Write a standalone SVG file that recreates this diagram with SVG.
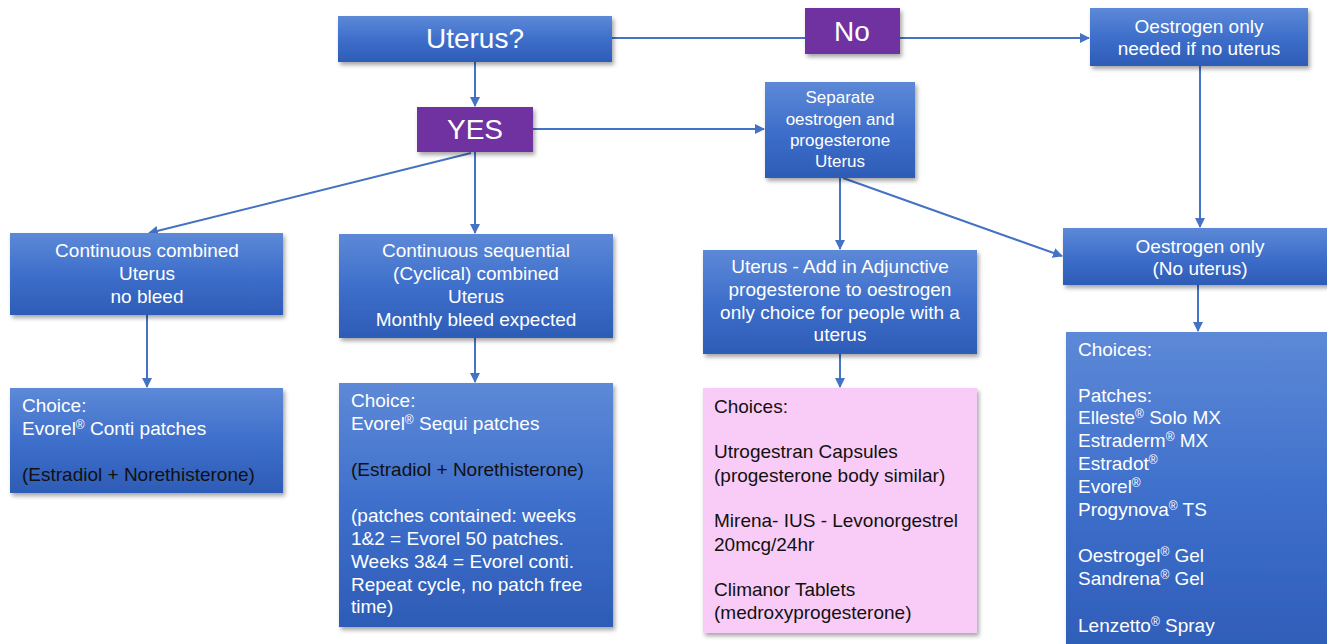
<svg xmlns="http://www.w3.org/2000/svg" width="1327" height="644" viewBox="0 0 1327 644">
<defs>
<linearGradient id="blue" x1="0" y1="0" x2="0" y2="1">
<stop offset="0" stop-color="#5D89D7"/>
<stop offset="0.5" stop-color="#3E6FCB"/>
<stop offset="1" stop-color="#2D5CB6"/>
</linearGradient>
<filter id="sh" x="-5%" y="-5%" width="115%" height="120%">
<feDropShadow dx="2" dy="3" stdDeviation="2" flood-color="#000" flood-opacity="0.35"/>
</filter>
<marker id="ah" viewBox="0 0 10 10" refX="9" refY="5" markerWidth="5" markerHeight="5" orient="auto" markerUnits="strokeWidth">
<path d="M0,0 L10,5 L0,10 z" fill="#4472C4"/>
</marker>
</defs>
<style>
.b{fill:url(#blue);filter:url(#sh);}
.p{fill:#7030A0;filter:url(#sh);}
.k{fill:#F9CCF8;filter:url(#sh);}
text{font-family:"Liberation Sans",Arial,sans-serif;}
.t{fill:#fff;font-size:19px;text-anchor:middle;}
.s{fill:#fff;font-size:17px;text-anchor:middle;}
.big{fill:#fff;font-size:28px;text-anchor:middle;}
.w{fill:#fff;font-size:19px;}
.d{fill:#111;font-size:19px;}
.r{font-size:12px;}
.c line{stroke:#4472C4;stroke-width:2;fill:none;}
.c .a{marker-end:url(#ah);}
</style>
<rect width="1327" height="644" fill="#fff"/>

<g class="c" id="connectors">
<line class="a" x1="475" y1="62" x2="475" y2="106"/>
<line x1="612" y1="38" x2="805" y2="38"/>
<line class="a" x1="900" y1="38" x2="1089" y2="38"/>
<line class="a" x1="533" y1="129" x2="764" y2="129"/>
<line class="a" x1="471" y1="153" x2="149" y2="233"/>
<line class="a" x1="475" y1="152" x2="475" y2="233"/>
<line class="a" x1="840" y1="178" x2="840" y2="249"/>
<line class="a" x1="843" y1="178" x2="1062" y2="256"/>
<line class="a" x1="1200" y1="66" x2="1200" y2="227"/>
<line class="a" x1="147" y1="315" x2="147" y2="387"/>
<line class="a" x1="475" y1="338" x2="475" y2="382"/>
<line class="a" x1="840" y1="354" x2="840" y2="387"/>
<line class="a" x1="1198" y1="285" x2="1198" y2="331"/>
</g>

<g id="uterus">
<rect class="b" x="338" y="16" width="274" height="46"/>
<text class="big" x="475" y="48">Uterus?</text>
</g>

<g id="no">
<rect class="p" x="805" y="8" width="95" height="46"/>
<text class="big" x="852" y="41">No</text>
</g>

<g id="oestrogen-needed">
<rect class="b" x="1090" y="8" width="218" height="58"/>
<text class="t" x="1199" y="33">Oestrogen only</text>
<text class="t" x="1199" y="55">needed if no uterus</text>
</g>

<g id="yes">
<rect class="p" x="417" y="107" width="116" height="45"/>
<text class="big" x="475" y="139">YES</text>
</g>

<g id="separate">
<rect class="b" x="765" y="82" width="150" height="96"/>
<text class="s" x="840" y="103">Separate</text>
<text class="s" x="840" y="125">oestrogen and</text>
<text class="s" x="840" y="146">progesterone</text>
<text class="s" x="840" y="167">Uterus</text>
</g>

<g id="continuous-combined">
<rect class="b" x="10" y="233" width="273" height="82"/>
<text class="t" x="147" y="257">Continuous combined</text>
<text class="t" x="147" y="280">Uterus</text>
<text class="t" x="147" y="303">no bleed</text>
</g>

<g id="continuous-sequential">
<rect class="b" x="339" y="234" width="274" height="104"/>
<text class="t" x="476" y="257">Continuous sequential</text>
<text class="t" x="476" y="280">(Cyclical) combined</text>
<text class="t" x="476" y="303">Uterus</text>
<text class="t" x="476" y="326">Monthly bleed expected</text>
</g>

<g id="adjunctive">
<rect class="b" x="703" y="250" width="274" height="104"/>
<text class="t" x="840" y="273">Uterus - Add in Adjunctive</text>
<text class="t" x="840" y="296">progesterone to oestrogen</text>
<text class="t" x="840" y="319">only choice for people with a</text>
<text class="t" x="840" y="341">uterus</text>
</g>

<g id="oestrogen-only">
<rect class="b" x="1063" y="228" width="280" height="57"/>
<text class="t" x="1200" y="253">Oestrogen only</text>
<text class="t" x="1200" y="275">(No uterus)</text>
</g>

<g id="choice-conti">
<rect class="b" x="10" y="388" width="273" height="105"/>
<text class="w" x="22" y="412">Choice:</text>
<text class="w" x="22" y="435">Evorel<tspan class="r" dy="-6">®</tspan><tspan dy="6"> Conti patches</tspan></text>
<text class="d" x="22" y="481">(Estradiol + Norethisterone)</text>
</g>

<g id="choice-sequi">
<rect class="b" x="339" y="383" width="274" height="244"/>
<text class="w" x="351" y="407">Choice:</text>
<text class="w" x="351" y="430">Evorel<tspan class="r" dy="-6">®</tspan><tspan dy="6"> Sequi patches</tspan></text>
<text class="d" x="351" y="476">(Estradiol + Norethisterone)</text>
<text class="w" x="351" y="522">(patches contained: weeks</text>
<text class="w" x="351" y="545">1&amp;2 = Evorel 50 patches.</text>
<text class="w" x="351" y="568">Weeks 3&amp;4 = Evorel conti.</text>
<text class="w" x="351" y="591">Repeat cycle, no patch free</text>
<text class="w" x="351" y="613">time)</text>
</g>

<g id="choices-progesterone">
<rect class="k" x="703" y="388" width="274" height="245"/>
<text class="d" x="714" y="413">Choices:</text>
<text class="d" x="714" y="458">Utrogestran Capsules</text>
<text class="d" x="714" y="482">(progesterone body similar)</text>
<text class="d" x="714" y="527">Mirena- IUS - Levonorgestrel</text>
<text class="d" x="714" y="551">20mcg/24hr</text>
<text class="d" x="714" y="596">Climanor Tablets</text>
<text class="d" x="714" y="619">(medroxyprogesterone)</text>
</g>

<g id="choices-oestrogen">
<rect class="b" x="1066" y="332" width="280" height="330"/>
<text class="w" x="1078" y="356">Choices:</text>
<text class="w" x="1078" y="402">Patches:</text>
<text class="w" x="1078" y="424">Elleste<tspan class="r" dy="-6">®</tspan><tspan dy="6"> Solo MX</tspan></text>
<text class="w" x="1078" y="447">Estraderm<tspan class="r" dy="-6">®</tspan><tspan dy="6"> MX</tspan></text>
<text class="w" x="1078" y="470">Estradot<tspan class="r" dy="-6">®</tspan></text>
<text class="w" x="1078" y="493">Evorel<tspan class="r" dy="-6">®</tspan></text>
<text class="w" x="1078" y="516">Progynova<tspan class="r" dy="-6">®</tspan><tspan dy="6"> TS</tspan></text>
<text class="w" x="1078" y="562">Oestrogel<tspan class="r" dy="-6">®</tspan><tspan dy="6"> Gel</tspan></text>
<text class="w" x="1078" y="585">Sandrena<tspan class="r" dy="-6">®</tspan><tspan dy="6"> Gel</tspan></text>
<text class="w" x="1078" y="632">Lenzetto<tspan class="r" dy="-6">®</tspan><tspan dy="6"> Spray</tspan></text>
</g>
</svg>
